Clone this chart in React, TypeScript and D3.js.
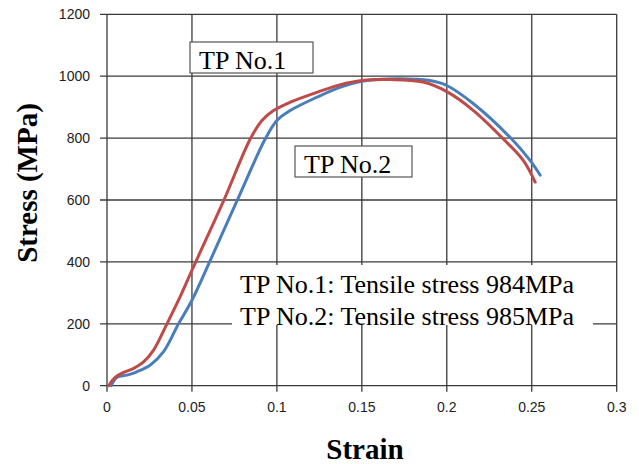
import React from "react";
import * as d3 from "d3";

const strainTP1 = [0.001, 0.0048, 0.0098, 0.0157, 0.0215, 0.0274, 0.0353, 0.043, 0.05, 0.0549, 0.0686, 0.0843, 0.0912, 0.098, 0.1078, 0.1235, 0.137, 0.15, 0.1667, 0.186, 0.2, 0.2157, 0.2333, 0.245, 0.252];
const stressTP1 = [0, 27, 43, 56, 77, 115, 200, 287, 373, 432, 597, 797, 857, 889, 916, 948, 972, 986, 989, 981, 950, 889, 797, 728, 658];

const strainTP2 = [0.0025, 0.0059, 0.0118, 0.0176, 0.0255, 0.0333, 0.0421, 0.05, 0.0608, 0.0765, 0.0931, 0.1, 0.1078, 0.1235, 0.137, 0.15, 0.1706, 0.19, 0.2, 0.2157, 0.2382, 0.249, 0.255];
const stressTP2 = [0, 27, 34, 45, 67, 110, 200, 276, 405, 597, 797, 857, 889, 932, 964, 984, 992, 986, 970, 911, 797, 728, 680];

const xTicks = [0, 0.05, 0.1, 0.15, 0.2, 0.25, 0.3];
const yTicks = [0, 200, 400, 600, 800, 1000, 1200];
const xTickLabels = ["0", "0.05", "0.1", "0.15", "0.2", "0.25", "0.3"];

const seriesNames = ["TP No.1", "TP No.2"];
const noteLines = ["TP No.1: Tensile stress 984MPa", "TP No.2: Tensile stress 985MPa"];

export default function App() {
  const W = 639, H = 464;
  const x = d3.scaleLinear().domain([0, 0.3]).range([107, 616.7]);
  const y = d3.scaleLinear().domain([0, 1200]).range([385.7, 14.3]);
  const line = d3.line<[number, number]>().x(d => x(d[0])).y(d => y(d[1])).curve(d3.curveCatmullRom.alpha(0.5));
  const d1 = line(strainTP1.map((s, i) => [s, stressTP1[i]] as [number, number]))!;
  const d2 = line(strainTP2.map((s, i) => [s, stressTP2[i]] as [number, number]))!;
  const grid = "#3a3a3a";
  const serif = "'Liberation Serif', 'Times New Roman', serif";
  const sans = "'Liberation Sans', Arial, sans-serif";
  return (
    <svg width={W} height={H} style={{ position: "absolute", left: 0, top: 0, background: "#fff" }}>
      <rect x={0} y={0} width={W} height={H} fill="#fff" />
      {yTicks.map(t => (
        <line key={"h" + t} x1={x(0) - 7} x2={x(0.3)} y1={y(t)} y2={y(t)} stroke={grid} strokeWidth={1.3} />
      ))}
      {xTicks.map(t => (
        <line key={"v" + t} x1={x(t)} x2={x(t)} y1={y(1200)} y2={y(0) + 6} stroke={grid} strokeWidth={1.3} />
      ))}
      {yTicks.map(t => (
        <text key={"yl" + t} x={90} y={y(t)} dy="0.35em" textAnchor="end" fontFamily={sans} fontSize={14} fill="#222">{t}</text>
      ))}
      {xTicks.map((t, i) => (
        <text key={"xl" + t} x={x(t)} y={412} textAnchor="middle" fontFamily={sans} fontSize={14} fill="#222">{xTickLabels[i]}</text>
      ))}
      <path d={d2} fill="none" stroke="#4A7EBB" strokeWidth={3} strokeLinejoin="round" strokeLinecap="round" />
      <path d={d1} fill="none" stroke="#BE4B48" strokeWidth={3} strokeLinejoin="round" strokeLinecap="round" />
      <rect x={190} y={42} width={123} height={31} fill="#fff" stroke="#555" strokeWidth={1.2} />
      <text x={199} y={69} fontFamily={serif} fontSize={26} fill="#000">{seriesNames[0]}</text>
      <rect x={295} y={146} width={117} height={31} fill="#fff" stroke="#555" strokeWidth={1.2} />
      <text x={304} y={173} fontFamily={serif} fontSize={26} fill="#000">{seriesNames[1]}</text>
      <rect x={232} y={265} width={361} height={60} fill="#fff" />
      <text x={240} y={293} fontFamily={serif} fontSize={26} fill="#000">{noteLines[0]}</text>
      <text x={240} y={325} fontFamily={serif} fontSize={26} fill="#000">{noteLines[1]}</text>
      <text transform={`translate(37,${183}) rotate(-90)`} textAnchor="middle" fontFamily={serif} fontWeight="bold" fontSize={29} fill="#000">Stress (MPa)</text>
      <text x={365} y={459} textAnchor="middle" fontFamily={serif} fontWeight="bold" fontSize={29} fill="#000">Strain</text>
    </svg>
  );
}
